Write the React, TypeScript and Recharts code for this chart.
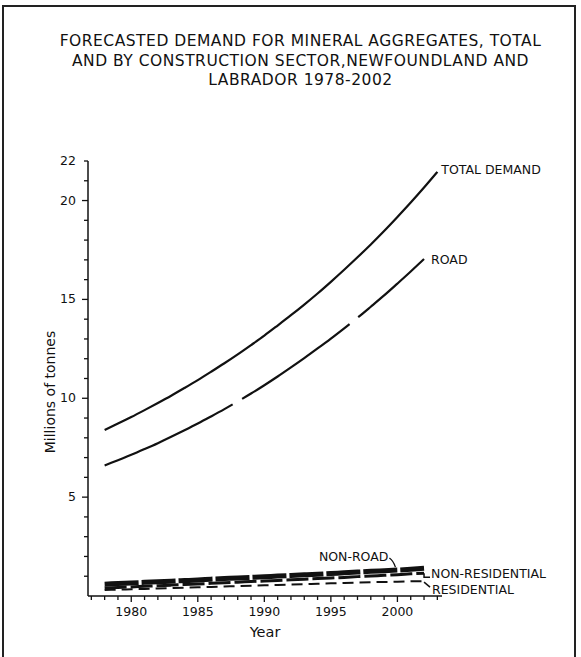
import { LineChart, Line, XAxis, YAxis } from "recharts";

const years = [
  1978, 1979, 1980, 1981, 1982, 1983, 1984, 1985, 1986, 1987, 1988, 1989, 1990,
  1991, 1992, 1993, 1994, 1995, 1996, 1997, 1998, 1999, 2000, 2001, 2002, 2003,
];

// millions of tonnes
const totalDemand = [
  8.4, 8.72, 9.05, 9.4, 9.76, 10.13, 10.52, 10.92, 11.34, 11.77, 12.22, 12.69,
  13.17, 13.68, 14.2, 14.74, 15.3, 15.89, 16.5, 17.13, 17.78, 18.46, 19.17,
  19.9, 20.66, 21.45,
];
const road = [
  6.6, 6.87, 7.14, 7.43, 7.73, 8.05, 8.38, 8.72, 9.08, 9.45, 9.84, 10.24,
  10.66, 11.1, 11.56, 12.03, 12.52, 13.02, 13.54, 14.07, 14.63, 15.2, 15.8,
  16.41, 17.04, null,
];
const nonRoad = [
  0.6, 0.63, 0.66, 0.69, 0.72, 0.75, 0.78, 0.81, 0.85, 0.88, 0.91, 0.94, 0.97,
  1.01, 1.04, 1.07, 1.1, 1.14, 1.17, 1.21, 1.25, 1.28, 1.31, 1.35, 1.4, null,
];
const nonResidential = [
  0.4, 0.43, 0.46, 0.49, 0.52, 0.55, 0.58, 0.61, 0.64, 0.67, 0.7, 0.73, 0.76,
  0.79, 0.82, 0.85, 0.88, 0.91, 0.94, 0.98, 1.01, 1.05, 1.08, 1.12, 1.15, null,
];
const residential = [
  0.3, 0.32, 0.34, 0.36, 0.38, 0.4, 0.42, 0.44, 0.46, 0.48, 0.5, 0.52, 0.54,
  0.56, 0.58, 0.6, 0.62, 0.64, 0.66, 0.68, 0.7, 0.71, 0.72, 0.74, 0.75, null,
];

const xTicks = [
  1977, 1978, 1979, 1980, 1981, 1982, 1983, 1984, 1985, 1986, 1987, 1988, 1989,
  1990, 1991, 1992, 1993, 1994, 1995, 1996, 1997, 1998, 1999, 2000, 2001, 2002,
  2003,
];
const xLabels = [1980, 1985, 1990, 1995, 2000];
const yTicks = [
  1, 2, 3, 4, 5, 6, 7, 8, 9, 10, 11, 12, 13, 14, 15, 16, 17, 18, 19, 20, 21, 22,
];
const yLabels = [5, 10, 15, 20, 22];

const titleLines = [
  "FORECASTED DEMAND FOR MINERAL AGGREGATES, TOTAL",
  "AND BY CONSTRUCTION SECTOR,NEWFOUNDLAND AND",
  "LABRADOR 1978-2002",
];

const data = years.map((year, i) => ({
  year,
  total: totalDemand[i],
  road: road[i],
  nonRoad: nonRoad[i],
  nonRes: nonResidential[i],
  res: residential[i],
}));

const ink = "#111";
const font = "'DejaVu Sans', sans-serif";

const XTick = (props: any) => {
  const { x, y, payload } = props;
  const major = xLabels.includes(payload.value);
  return (
    <g>
      <line x1={x} y1={y} x2={x} y2={y + (major ? 6 : 4)} stroke={ink} strokeWidth={1.3} />
      {major && (
        <text x={x} y={y + 20} textAnchor="middle" fontSize={12.5} fontFamily={font} fill={ink}>
          {payload.value}
        </text>
      )}
    </g>
  );
};

const YTick = (props: any) => {
  const { x, y, payload } = props;
  const major = payload.value % 5 === 0;
  const shown = yLabels.includes(payload.value);
  return (
    <g>
      <line x1={x - (major ? 6 : 4)} y1={y} x2={x} y2={y} stroke={ink} strokeWidth={1.3} />
      {shown && (
        <text x={x - 12} y={y + 4} textAnchor="end" fontSize={12.5} fontFamily={font} fill={ink}>
          {payload.value}
        </text>
      )}
    </g>
  );
};

const labelText = (x: number, y: number, text: string, anchor = "start") => (
  <text x={x} y={y} textAnchor={anchor} fontSize={12.5} fontFamily={font} fill={ink}>
    {text}
  </text>
);

const totalLabel = (p: any) =>
  p.index === years.length - 1 ? labelText(p.x + 4, p.y + 2, "TOTAL DEMAND") : <g />;

const roadLabel = (p: any) =>
  p.index === years.length - 2 ? labelText(p.x + 7, p.y + 5, "ROAD") : <g />;

const nonRoadLabel = (p: any) =>
  p.index === 22 ? (
    <g>
      {labelText(p.x - 9, p.y - 9, "NON-ROAD", "end")}
      <path d={`M${p.x - 8},${p.y - 12} q4,3 6,9`} stroke={ink} strokeWidth={1.3} fill="none" />
    </g>
  ) : (
    <g />
  );

const nonResLabel = (p: any) =>
  p.index === years.length - 2 ? (
    <g>
      <path d={`M${p.x},${p.y} l0,4 l6,0`} stroke={ink} strokeWidth={1.5} fill="none" />
      {labelText(p.x + 7, p.y + 5, "NON-RESIDENTIAL")}
    </g>
  ) : (
    <g />
  );

const resLabel = (p: any) =>
  p.index === years.length - 2 ? (
    <g>
      <path d={`M${p.x},${p.y + 1} l6,5`} stroke={ink} strokeWidth={1.5} fill="none" />
      {labelText(p.x + 8, p.y + 13, "RESIDENTIAL")}
    </g>
  ) : (
    <g />
  );

export default function App() {
  return (
    <div
      style={{
        position: "absolute",
        left: 0,
        top: 0,
        width: 581,
        height: 657,
        overflow: "hidden",
        background: "#fff",
      }}
    >
      <div
        style={{
          position: "absolute",
          left: 2,
          top: 5,
          width: 570,
          height: 700,
          border: "2px solid #222",
        }}
      />
      <div
        style={{
          position: "absolute",
          left: 0,
          top: 32,
          width: 601,
          textAlign: "center",
          fontFamily: font,
          fontSize: 15.5,
          letterSpacing: 0.5,
          lineHeight: "19.5px",
          color: ink,
        }}
      >
        {titleLines.map((t) => (
          <div key={t}>{t}</div>
        ))}
      </div>
      <div
        style={{
          position: "absolute",
          left: 0,
          top: 0,
        }}
      >
        <LineChart
          width={581}
          height={657}
          data={data}
          margin={{ top: 161, right: 139, bottom: 31, left: 28 }}
        >
          <XAxis
            dataKey="year"
            type="number"
            domain={[1976.75, 2003.35]}
            ticks={xTicks}
            interval={0}
            allowDataOverflow
            height={30}
            tickSize={0}
            tickMargin={0}
            tickLine={false}
            tick={XTick}
            axisLine={{ stroke: ink, strokeWidth: 1.5 }}
          />
          <YAxis
            type="number"
            domain={[0, 22]}
            ticks={yTicks}
            interval={0}
            width={60}
            tickSize={0}
            tickMargin={0}
            tickLine={false}
            tick={YTick}
            axisLine={{ stroke: ink, strokeWidth: 1.5 }}
          />
          <Line
            dataKey="total"
            type="monotone"
            stroke={ink}
            strokeWidth={2.2}
            dot={false}
            label={totalLabel}
            isAnimationActive={false}
          />
          <Line
            dataKey="road"
            type="monotone"
            stroke={ink}
            strokeWidth={2.2}
            strokeDasharray="142 11 131 11 200 0"
            dot={false}
            label={roadLabel}
            isAnimationActive={false}
          />
          <Line
            dataKey="res"
            type="monotone"
            stroke={ink}
            strokeWidth={2}
            strokeDasharray="11 6"
            dot={false}
            label={resLabel}
            isAnimationActive={false}
          />
          <Line
            dataKey="nonRes"
            type="monotone"
            stroke={ink}
            strokeWidth={3}
            strokeDasharray="22 4"
            dot={false}
            label={nonResLabel}
            isAnimationActive={false}
          />
          <Line
            dataKey="nonRoad"
            type="monotone"
            stroke={ink}
            strokeWidth={5}
            strokeDasharray="34 3"
            dot={false}
            label={nonRoadLabel}
            isAnimationActive={false}
          />
        </LineChart>
      </div>
      <div
        style={{
          position: "absolute",
          left: 50,
          top: 392,
          transform: "translate(-50%, -50%) rotate(-90deg)",
          fontFamily: font,
          fontSize: 14,
          color: ink,
          whiteSpace: "nowrap",
        }}
      >
        Millions of tonnes
      </div>
      <div
        style={{
          position: "absolute",
          left: 265,
          top: 632,
          transform: "translate(-50%, -50%)",
          fontFamily: font,
          fontSize: 14.5,
          color: ink,
        }}
      >
        Year
      </div>
    </div>
  );
}
